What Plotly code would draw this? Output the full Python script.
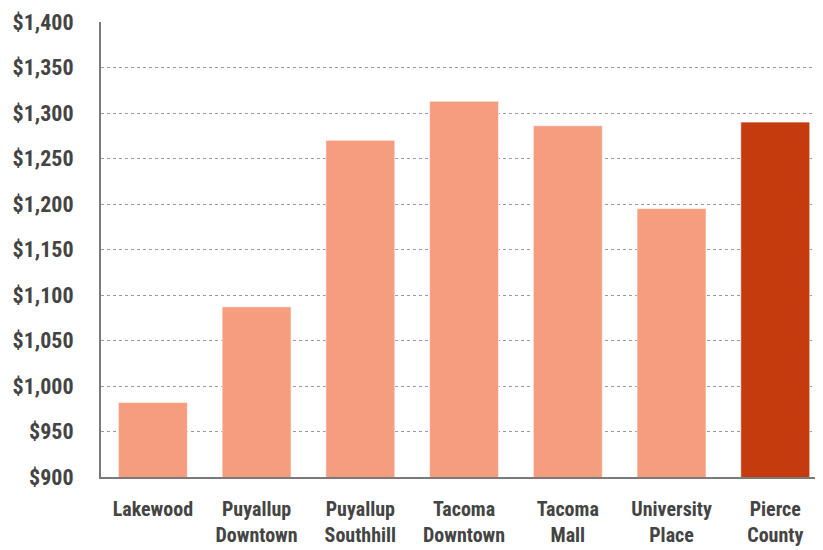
import plotly.graph_objects as go

categories = ["Lakewood", "Puyallup<br>Downtown", "Puyallup<br>Southhill", "Tacoma<br>Downtown",
              "Tacoma<br>Mall", "University<br>Place", "Pierce<br>County"]
rents = [982, 1087, 1270, 1313, 1286, 1195, 1290]
colors = ["#F69D7F"] * 6 + ["#C53B0E"]

y_ticks = list(range(900, 1401, 50))
y_labels = ["${:,}".format(v) for v in y_ticks]

font_family = "Liberation Sans Narrow, Roboto Condensed, DejaVu Sans Condensed, Roboto, sans-serif"

fig = go.Figure(
    data=[go.Bar(
        x=list(range(len(categories))),
        y=rents,
        marker=dict(color=colors, line=dict(color="rgba(255,255,255,0.6)", width=1)),
    )]
)

# page body has an 8px default margin, so the figure is sized to fit after it
fig.update_layout(
    width=815,
    height=542,
    margin=dict(l=93, r=0, t=14, b=73),
    plot_bgcolor="white",
    paper_bgcolor="white",
    bargap=0.335,
    showlegend=False,
    font=dict(family=font_family, color="#444444"),
    xaxis=dict(
        range=[-0.5, 6.46],
        tickmode="array",
        tickvals=list(range(len(categories))),
        ticktext=categories,
        tickfont=dict(size=20, family=font_family, weight="bold"),
        showgrid=False,
        showline=True,
        linecolor="#7a7a7a",
        linewidth=2,
        ticks="",
        ticklabelstandoff=13,
        automargin=False,
    ),
    yaxis=dict(
        range=[900, 1400],
        tickmode="array",
        tickvals=y_ticks,
        ticktext=y_labels,
        tickfont=dict(size=22, family=font_family, weight="bold"),
        showgrid=True,
        gridcolor="#9a9a9a",
        griddash="dot",
        gridwidth=1,
        showline=True,
        linecolor="#7a7a7a",
        linewidth=2,
        ticks="",
        ticklabelstandoff=21,
        zeroline=False,
        automargin=False,
    ),
)

fig.write_html("out.html")
